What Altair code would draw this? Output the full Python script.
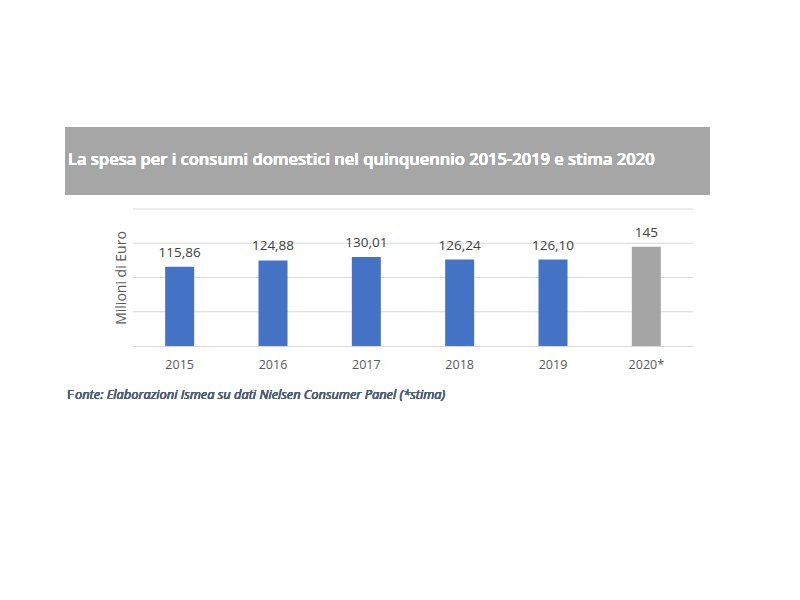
import altair as alt
import pandas as pd

# ---- data ----
years = ["2015", "2016", "2017", "2018", "2019", "2020*"]
values = [115.86, 124.88, 130.01, 126.24, 126.10, 145]
value_labels = ["115,86", "124,88", "130,01", "126,24", "126,10", "145"]
kind = ["Consuntivo", "Consuntivo", "Consuntivo", "Consuntivo", "Consuntivo", "Stima"]
grid_values = [50, 100, 150, 200]

title_text = "La spesa per i consumi domestici nel quinquennio 2015-2019 e stima 2020"
y_title = "Milioni di Euro"
source_first = "F"
source_rest = "onte: Elaborazioni Ismea su dati Nielsen Consumer Panel (*stima)"

df = pd.DataFrame({"anno": years, "valore": values, "etichetta": value_labels, "tipo": kind})
gdf = pd.DataFrame({"g": grid_values})

FONT = "Open Sans"
PL, PT = 133, 209
W, H = 560, 137

x_enc = alt.X("anno:N", sort=years, title=None,
              scale=alt.Scale(paddingInner=0, paddingOuter=0),
              axis=alt.Axis(labelAngle=0, ticks=False, domain=True, domainColor="#d9d9d9",
                            labelColor="#595959", labelFontSize=12.5, labelFont=FONT,
                            labelPadding=12))
y_enc = alt.Y("valore:Q", title=y_title,
              scale=alt.Scale(domain=[0, 200], nice=False),
              axis=alt.Axis(labels=False, ticks=False, domain=False, grid=False,
                            titleColor="#595959", titleFont=FONT, titleFontSize=14,
                            titleFontWeight="normal", titlePadding=5))

grid = alt.Chart(gdf).mark_rule(color="#d9d9d9", strokeWidth=1).encode(
    y=alt.Y("g:Q", scale=alt.Scale(domain=[0, 200], nice=False)))

banner = alt.Chart(df).mark_rect(color="#a6a6a6").encode(
    x=alt.value(65 - PL), x2=alt.value(710 - PL), y=alt.value(127 - PT), y2=alt.value(195 - PT))

banner_text = alt.Chart(df).mark_text(
    text=title_text, color="white", font=FONT, fontSize=16.5, fontWeight=600,
    align="left", baseline="middle").encode(x=alt.value(68 - PL), y=alt.value(160 - PT))

bars = alt.Chart(df).mark_bar(size=29).encode(
    x=x_enc, y=y_enc,
    color=alt.Color("tipo:N", legend=None,
                    scale=alt.Scale(domain=["Consuntivo", "Stima"], range=["#4472c4", "#a5a5a5"])))

labels = alt.Chart(df).mark_text(dy=-14, color="#404040", font=FONT, fontSize=13.5).encode(
    x=alt.X("anno:N", sort=years), y="valore:Q", text="etichetta:N")

src1 = alt.Chart(df).mark_text(text=source_first, color="#4d5d73", font=FONT, fontSize=13,
                               align="left", baseline="middle").encode(
    x=alt.value(67 - PL), y=alt.value(395 - PT))
src2 = alt.Chart(df).mark_text(text=source_rest, color="#4d5d73", font=FONT, fontSize=12.8,
                               fontStyle="italic", fontWeight="normal", align="left",
                               baseline="middle").encode(
    x=alt.value(75 - PL), y=alt.value(395 - PT))

chart = alt.layer(grid, bars, labels, banner, banner_text, src1, src2).properties(
    width=W, height=H,
    autosize=alt.AutoSizeParams(type="none"),
    padding={"left": PL, "top": PT, "right": 800 - PL - W, "bottom": 600 - PT - H},
    background="white",
).configure_view(stroke=None)

chart.save("out.html", embed_options={"renderer": "svg", "actions": False})
